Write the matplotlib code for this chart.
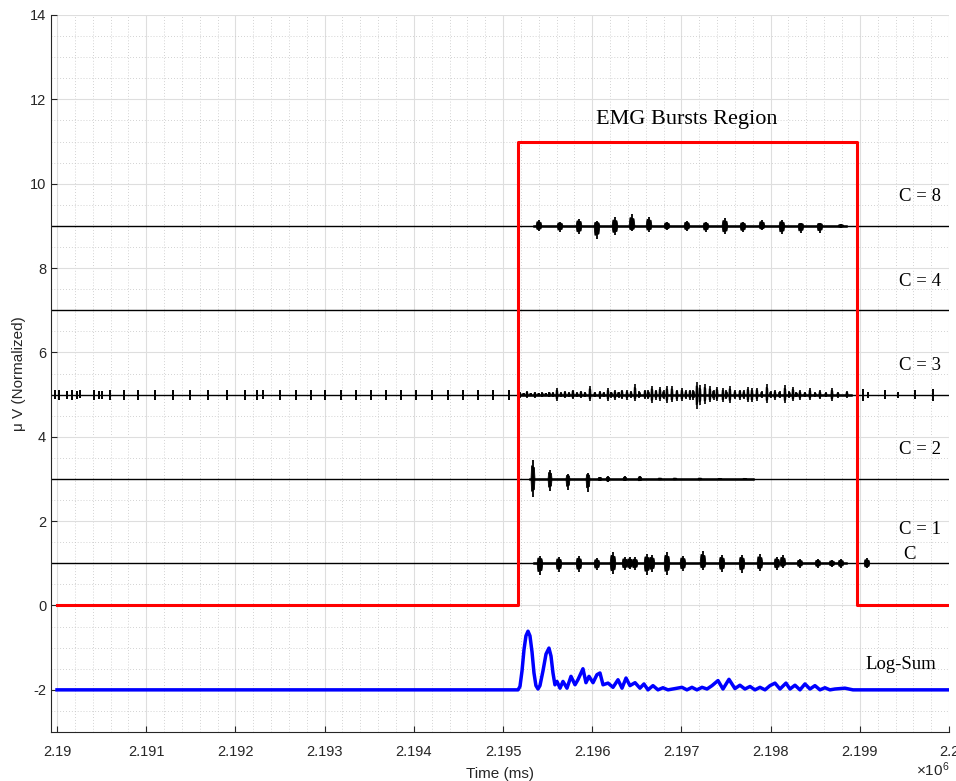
import matplotlib
matplotlib.use("Agg")
import matplotlib.pyplot as plt
from matplotlib.ticker import MultipleLocator, FuncFormatter

plt.rcParams["font.family"] = ["Liberation Sans", "DejaVu Sans"]
plt.rcParams["mathtext.fontset"] = "custom"
plt.rcParams["mathtext.rm"] = "Liberation Sans"
plt.rcParams["mathtext.it"] = "Liberation Sans:italic"

# ---------------------------------------------------------------- data
T0 = 2.19e6                      # ms, start of the analysed window
X_MIN, X_MAX = 2189933, 2200000  # ms
Y_MIN, Y_MAX = -3, 14

# burst-region indicator (offsets in ms from T0)
region_on, region_off = 5168, 8968
region_level = 11

# channel baselines and names
channel_names = ["C = 8", "C = 4", "C = 3", "C = 2", "C = 1"]
channel_levels = [9, 7, 5, 3, 1]

# C = 8 bursts: time offset (ms), positive peak, negative peak
c8_t = [5403, 5639, 5852, 6053, 6255, 6446, 6637, 6838, 7062, 7275, 7488,
        7690, 7903, 8127, 8340, 8553, 8789]
c8_up = [0.14, 0.10, 0.17, 0.12, 0.20, 0.28, 0.22, 0.10, 0.12, 0.10, 0.18,
         0.10, 0.14, 0.14, 0.08, 0.08, 0.04]
c8_dn = [0.12, 0.14, 0.20, 0.32, 0.22, 0.13, 0.14, 0.10, 0.12, 0.14, 0.20,
         0.15, 0.10, 0.20, 0.17, 0.16, 0.04]

# C = 3 isolated spikes (outside the burst region)
c3s_t = [-22, 22, 112, 168, 224, 258, 415, 471, 504, 594, 751, 908, 1099,
         1300, 1491, 1693, 1906, 2107, 2242, 2309, 2500, 2679, 2847, 3004,
         3184, 3352, 3520, 3688, 3856, 4024, 4204, 4383, 4551, 4719, 4888,
         5067, 9035, 9091, 9282, 9428, 9618, 9820]
c3s_up = [0.10, 0.12, 0.08, 0.10, 0.09, 0.10, 0.10, 0.08, 0.08, 0.12, 0.12,
          0.12, 0.10, 0.12, 0.12, 0.12, 0.12, 0.12, 0.11, 0.12, 0.12, 0.12,
          0.12, 0.12, 0.12, 0.12, 0.12, 0.12, 0.12, 0.12, 0.12, 0.12, 0.10,
          0.10, 0.12, 0.12, 0.13, 0.07, 0.10, 0.07, 0.10, 0.13]
c3s_dn = [0.10, 0.12, 0.10, 0.12, 0.10, 0.08, 0.12, 0.10, 0.10, 0.12, 0.13,
          0.12, 0.12, 0.13, 0.12, 0.12, 0.13, 0.13, 0.12, 0.10, 0.13, 0.12,
          0.12, 0.13, 0.12, 0.13, 0.12, 0.12, 0.13, 0.12, 0.13, 0.12, 0.12,
          0.13, 0.12, 0.13, 0.14, 0.08, 0.10, 0.08, 0.11, 0.14]

# C = 3 activity inside the burst region
c3b_t = [5190, 5230, 5269, 5310, 5358, 5400, 5440, 5480, 5520, 5560, 5605,
         5650, 5695, 5740, 5784, 5830, 5874, 5920, 5975, 6030, 6087, 6130,
         6177, 6215, 6255, 6295, 6334, 6390, 6435, 6480, 6530, 6592, 6630,
         6670, 6715, 6760, 6800, 6838, 6894, 6950, 7006, 7050, 7096, 7135,
         7174, 7208, 7264, 7320, 7360, 7399, 7466, 7505, 7544, 7600, 7656,
         7700, 7746, 7791, 7847, 7900, 7959, 8000, 8049, 8100, 8161, 8210,
         8251, 8290, 8329, 8385, 8441, 8500, 8553, 8620, 8688, 8755, 8856]
c3b_up = [0.06, 0.04, 0.08, 0.04, 0.06, 0.04, 0.05, 0.04, 0.07, 0.05, 0.15,
          0.05, 0.08, 0.05, 0.12, 0.05, 0.09, 0.06, 0.20, 0.06, 0.08, 0.06,
          0.15, 0.07, 0.10, 0.07, 0.12, 0.10, 0.08, 0.25, 0.08, 0.12, 0.10,
          0.20, 0.12, 0.18, 0.10, 0.20, 0.20, 0.12, 0.15, 0.10, 0.12, 0.12,
          0.30, 0.22, 0.25, 0.20, 0.12, 0.18, 0.15, 0.10, 0.20, 0.10, 0.12,
          0.10, 0.18, 0.15, 0.16, 0.08, 0.25, 0.08, 0.10, 0.08, 0.22, 0.08,
          0.18, 0.06, 0.10, 0.06, 0.15, 0.05, 0.10, 0.05, 0.15, 0.06, 0.08]
c3b_dn = [0.08, 0.04, 0.07, 0.04, 0.08, 0.04, 0.05, 0.04, 0.06, 0.05, 0.15,
          0.05, 0.08, 0.05, 0.10, 0.05, 0.08, 0.06, 0.15, 0.06, 0.10, 0.06,
          0.15, 0.07, 0.12, 0.07, 0.10, 0.12, 0.08, 0.15, 0.08, 0.10, 0.10,
          0.20, 0.12, 0.15, 0.10, 0.20, 0.18, 0.15, 0.15, 0.10, 0.12, 0.12,
          0.35, 0.25, 0.22, 0.18, 0.12, 0.15, 0.18, 0.10, 0.20, 0.10, 0.12,
          0.10, 0.18, 0.18, 0.14, 0.08, 0.20, 0.08, 0.12, 0.08, 0.20, 0.08,
          0.15, 0.06, 0.12, 0.06, 0.12, 0.05, 0.10, 0.05, 0.15, 0.08, 0.08]

# C = 2 bursts (decaying after burst onset)
c2_t = [5336, 5527, 5728, 5953, 6087, 6177, 6367, 6535, 6760, 6928, 7208,
        7432, 7712]
c2_up = [0.45, 0.22, 0.12, 0.15, 0.05, 0.06, 0.06, 0.07, 0.03, 0.03, 0.03,
         0.02, 0.02]
c2_dn = [0.42, 0.28, 0.25, 0.30, 0.05, 0.07, 0.05, 0.06, 0.03, 0.03, 0.03,
         0.02, 0.02]

# C = 1 bursts
c1_t = [5414, 5627, 5852, 6053, 6233, 6367, 6423, 6480, 6614, 6670, 6838,
        7017, 7242, 7455, 7679, 7880, 8071, 8138, 8329, 8531, 8688, 8789,
        9080]
c1_up = [0.18, 0.15, 0.17, 0.12, 0.27, 0.15, 0.15, 0.14, 0.22, 0.20, 0.27,
         0.18, 0.30, 0.20, 0.20, 0.22, 0.15, 0.20, 0.10, 0.10, 0.08, 0.10,
         0.12]
c1_dn = [0.28, 0.20, 0.20, 0.16, 0.25, 0.15, 0.14, 0.15, 0.27, 0.20, 0.27,
         0.18, 0.15, 0.20, 0.22, 0.18, 0.15, 0.10, 0.10, 0.10, 0.08, 0.10,
         0.12]

# Log-Sum envelope (time offset in ms, value)
logsum_t = [0, 5168, 5190, 5213, 5235, 5257, 5280, 5302, 5325, 5347, 5369,
            5392, 5414, 5448, 5482, 5515, 5538, 5560, 5582, 5605, 5639, 5672,
            5717, 5762, 5807, 5840, 5896, 5930, 5964, 6009, 6053, 6087, 6121,
            6177, 6233, 6289, 6334, 6379, 6423, 6480, 6535, 6580, 6625, 6681,
            6737, 6793, 6849, 6928, 7006, 7062, 7118, 7174, 7231, 7287, 7343,
            7410, 7466, 7533, 7600, 7656, 7712, 7769, 7825, 7881, 7937, 7993,
            8049, 8105, 8172, 8217, 8273, 8329, 8385, 8441, 8497, 8553, 8609,
            8665, 8721, 8833, 8923, 10000]
logsum_v = [-2.0, -2.0, -1.92, -1.55, -1.05, -0.72, -0.61, -0.72, -1.10,
            -1.60, -1.90, -1.98, -1.90, -1.55, -1.15, -1.01, -1.20, -1.60,
            -1.88, -1.80, -1.96, -1.80, -1.96, -1.68, -1.88, -1.76, -1.50,
            -1.83, -1.68, -1.83, -1.64, -1.60, -1.88, -1.84, -1.94, -1.76,
            -1.96, -1.72, -1.90, -1.83, -1.96, -1.86, -2.00, -1.90, -2.00,
            -1.95, -2.00, -1.97, -1.94, -2.00, -1.94, -2.00, -1.94, -1.98,
            -1.90, -1.78, -1.98, -1.75, -1.97, -1.89, -1.98, -1.92, -2.00,
            -1.94, -2.00, -1.90, -1.84, -1.98, -1.84, -1.98, -1.89, -2.00,
            -1.86, -1.98, -1.90, -2.00, -1.95, -2.00, -1.98, -1.96, -2.00,
            -2.00]

# ---------------------------------------------------------------- figure
fig = plt.figure(figsize=(9.56, 7.81), dpi=100)
ax = fig.add_axes([0.0534, 0.0627, 0.9393, 0.9181])

TXT = "#262626"


def draw_bursts(base, t_off, up, dn, half_w, body=0.7, lw=1.3):
    """Draw EMG bursts as spikes around a baseline with a filled core."""
    for t, u, d in zip(t_off, up, dn):
        tc = T0 + t
        ax.vlines(tc, base - d, base + u, color="black", lw=lw, zorder=3)
        if half_w > 0:
            xs = [tc - half_w, tc - half_w * 0.7, tc + half_w * 0.7,
                  tc + half_w, tc + half_w * 0.7, tc - half_w * 0.7]
            ys = [base, base + u * body, base + u * body * 0.85, base,
                  base - d * body * 0.85, base - d * body]
            ax.fill(xs, ys, color="black", lw=0.6, zorder=3)


# baselines of each channel
for lvl in channel_levels:
    ax.plot([X_MIN, X_MAX], [lvl, lvl], color="black", lw=1.0, zorder=2)

# slightly thicker trace where the channel carries low-level activity
for lvl, (a, b) in zip([9, 5, 3, 1],
                       [(5350, 8850), (5180, 8900), (5300, 7800),
                        (5350, 8850)]):
    ax.plot([T0 + a, T0 + b], [lvl, lvl], color="black", lw=1.8, zorder=2)

draw_bursts(9, c8_t, c8_up, c8_dn, 32)
draw_bursts(5, c3s_t, c3s_up, c3s_dn, 0, lw=1.4)
draw_bursts(5, c3b_t, c3b_up, c3b_dn, 12, lw=1.2)
draw_bursts(3, c2_t, c2_up, c2_dn, 22)
draw_bursts(1, c1_t, c1_up, c1_dn, 32)

# burst-region indicator
rx = [T0, T0 + region_on, T0 + region_on, T0 + region_off,
      T0 + region_off, T0 + 10000]
ry = [0, 0, region_level, region_level, 0, 0]
ax.plot(rx, ry, color="#ff0000", lw=2.2, zorder=4)

# Log-Sum trace
ax.plot([T0 + t for t in logsum_t], logsum_v, color="#0000ff", lw=2.5,
        zorder=5, solid_joinstyle="round")

# annotations
serif = ["Liberation Serif", "DejaVu Serif"]
ax.text(T0 + 7062, 11.52, "EMG Bursts Region", family=serif, fontsize=16,
        ha="center", va="center", color="black")
label_y = [9.69, 7.69, 5.69, 3.69, 1.79]
for name, y in zip(channel_names, label_y):
    ax.text(T0 + 9912, y, name, family=serif, fontsize=13.5, ha="right",
            va="center", color="black")
ax.text(T0 + 9562, 1.21, "C", family=serif, fontsize=13.5, ha="center",
        va="center", color="black")
ax.text(T0 + 9461, -1.40, "Log-Sum", family=serif, fontsize=13.5,
        ha="center", va="center", color="black")

# axes styling
ax.set_xlim(X_MIN, X_MAX)
ax.set_ylim(Y_MIN, Y_MAX)
ax.xaxis.set_major_locator(MultipleLocator(1000))
ax.xaxis.set_minor_locator(MultipleLocator(200))
ax.yaxis.set_major_locator(MultipleLocator(2))
ax.yaxis.set_minor_locator(MultipleLocator(0.5))
ax.xaxis.set_major_formatter(FuncFormatter(lambda v, p: f"{v / 1e6:g}"))
ax.yaxis.set_major_formatter(FuncFormatter(lambda v, p: f"{v:g}"))

ax.set_axisbelow(True)
ax.grid(which="major", color="#dedede", lw=0.8, ls="-")
ax.grid(which="minor", color="#c4c4c4", lw=0.6, ls=(0, (1, 2.5)))

for s in ("top", "right"):
    ax.spines[s].set_visible(False)
for s in ("left", "bottom"):
    ax.spines[s].set_color(TXT)
    ax.spines[s].set_linewidth(0.8)
ax.tick_params(which="major", direction="in", length=4.5, width=0.8,
               colors=TXT, labelsize=10.5)
ax.tick_params(which="minor", length=0)
ax.tick_params(axis="x", pad=9)

ax.set_xlabel("Time (ms)", fontsize=11, color=TXT, labelpad=6)
ax.set_ylabel("\u03bc V (Normalized)", fontsize=11, color=TXT, labelpad=3)
ax.text(1.0, -0.040, r"$\times10^{6}$", transform=ax.transAxes, ha="right",
        va="top", fontsize=11, color=TXT)

fig.savefig("out.png", dpi=100)
